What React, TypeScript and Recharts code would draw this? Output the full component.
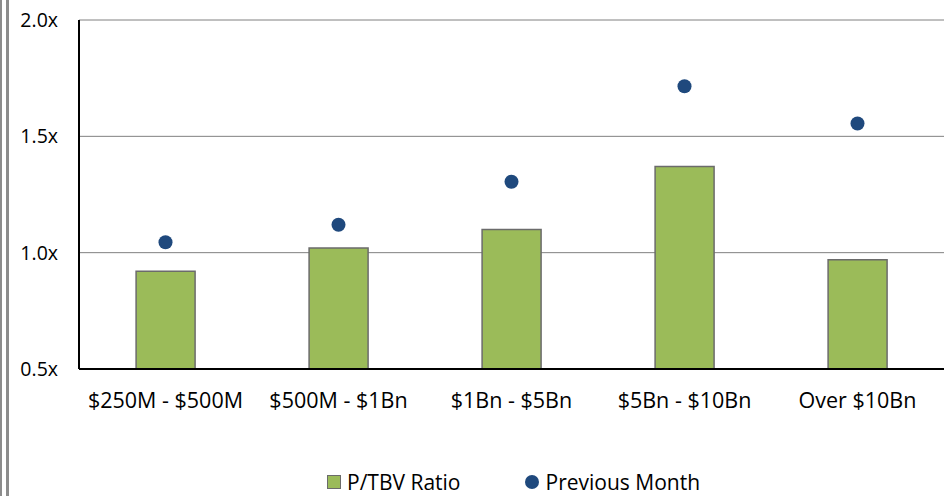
import { ComposedChart, Bar, Scatter, XAxis, YAxis, CartesianGrid, Legend } from 'recharts';

const categories = ['$250M - $500M', '$500M - $1Bn', '$1Bn - $5Bn', '$5Bn - $10Bn', 'Over $10Bn'];
const ptbvRatio = [0.92, 1.02, 1.10, 1.37, 0.97];
const previousMonth = [1.045, 1.12, 1.305, 1.715, 1.555];
const yTicks = [0.5, 1.0, 1.5, 2.0];

const data = categories.map((name, i) => ({ name, ratio: ptbvRatio[i], prev: previousMonth[i] }));

const FONT = '"Open Sans", sans-serif';
const GREEN = '#9bbb59';
const NAVY = '#1f497d';

function LegendContent() {
    return (
        <div style={{ display: 'flex', alignItems: 'center', height: 28, marginLeft: 327, fontFamily: FONT, fontSize: 21, color: '#000', lineHeight: '28px' }}>
            <span style={{ width: 14, height: 14, background: GREEN, border: '1px solid #6b6b6b', boxSizing: 'border-box', marginRight: 6 }} />
            <span>P/TBV Ratio</span>
            <span style={{ width: 14, height: 14, borderRadius: '50%', background: NAVY, marginLeft: 64, marginRight: 7 }} />
            <span>Previous Month</span>
        </div>
    );
}

export default function App() {
    return (
        <div style={{ position: 'absolute', left: 0, top: 0, width: 950, height: 496, background: '#fff' }}>
            <div style={{ position: 'absolute', left: 0, top: 0, width: 2, height: 496, background: '#8c8c8c' }} />
            <div style={{ position: 'absolute', left: 6, top: 0, width: 3, height: 496, background: '#8c8c8c' }} />
            <ComposedChart width={950} height={496} data={data} margin={{ top: 20, right: 6, left: 0, bottom: 0 }} barCategoryGap="33%">
                <CartesianGrid vertical={false} stroke="#808080" strokeWidth={1} />
                <XAxis dataKey="name" axisLine={{ stroke: '#000', strokeWidth: 2 }} tickLine={false} tickMargin={18} height={99}
                    tick={{ fontSize: 21.5, fill: '#000', fontFamily: FONT }} interval={0} />
                <XAxis xAxisId="top" orientation="top" dataKey="name" axisLine={{ stroke: '#000', strokeWidth: 2 }} tick={false} tickLine={false} height={0} />
                <YAxis domain={[0.5, 2]} ticks={yTicks} axisLine={{ stroke: '#000', strokeWidth: 2 }} tickLine={false} tickSize={0} tickMargin={21} width={79}
                    tick={{ fontSize: 19.5, fill: '#000', fontFamily: FONT }} tickFormatter={(v) => `${v.toFixed(1)}x`} allowDataOverflow />
                <YAxis yAxisId="right" orientation="right" domain={[0.5, 2]} axisLine={{ stroke: '#000', strokeWidth: 2 }} tick={false} tickLine={false} width={0} />
                <Bar dataKey="ratio" name="P/TBV Ratio" fill={GREEN} stroke="#6b6b6b" strokeWidth={1.5} isAnimationActive={false} />
                <Scatter dataKey="prev" name="Previous Month" fill={NAVY} isAnimationActive={false}
                    shape={(p: any) => <circle cx={p.cx} cy={p.cy} r={7} fill={NAVY} />} />
                <Legend verticalAlign="bottom" height={28} content={<LegendContent />} />
            </ComposedChart>
        </div>
    );
}
